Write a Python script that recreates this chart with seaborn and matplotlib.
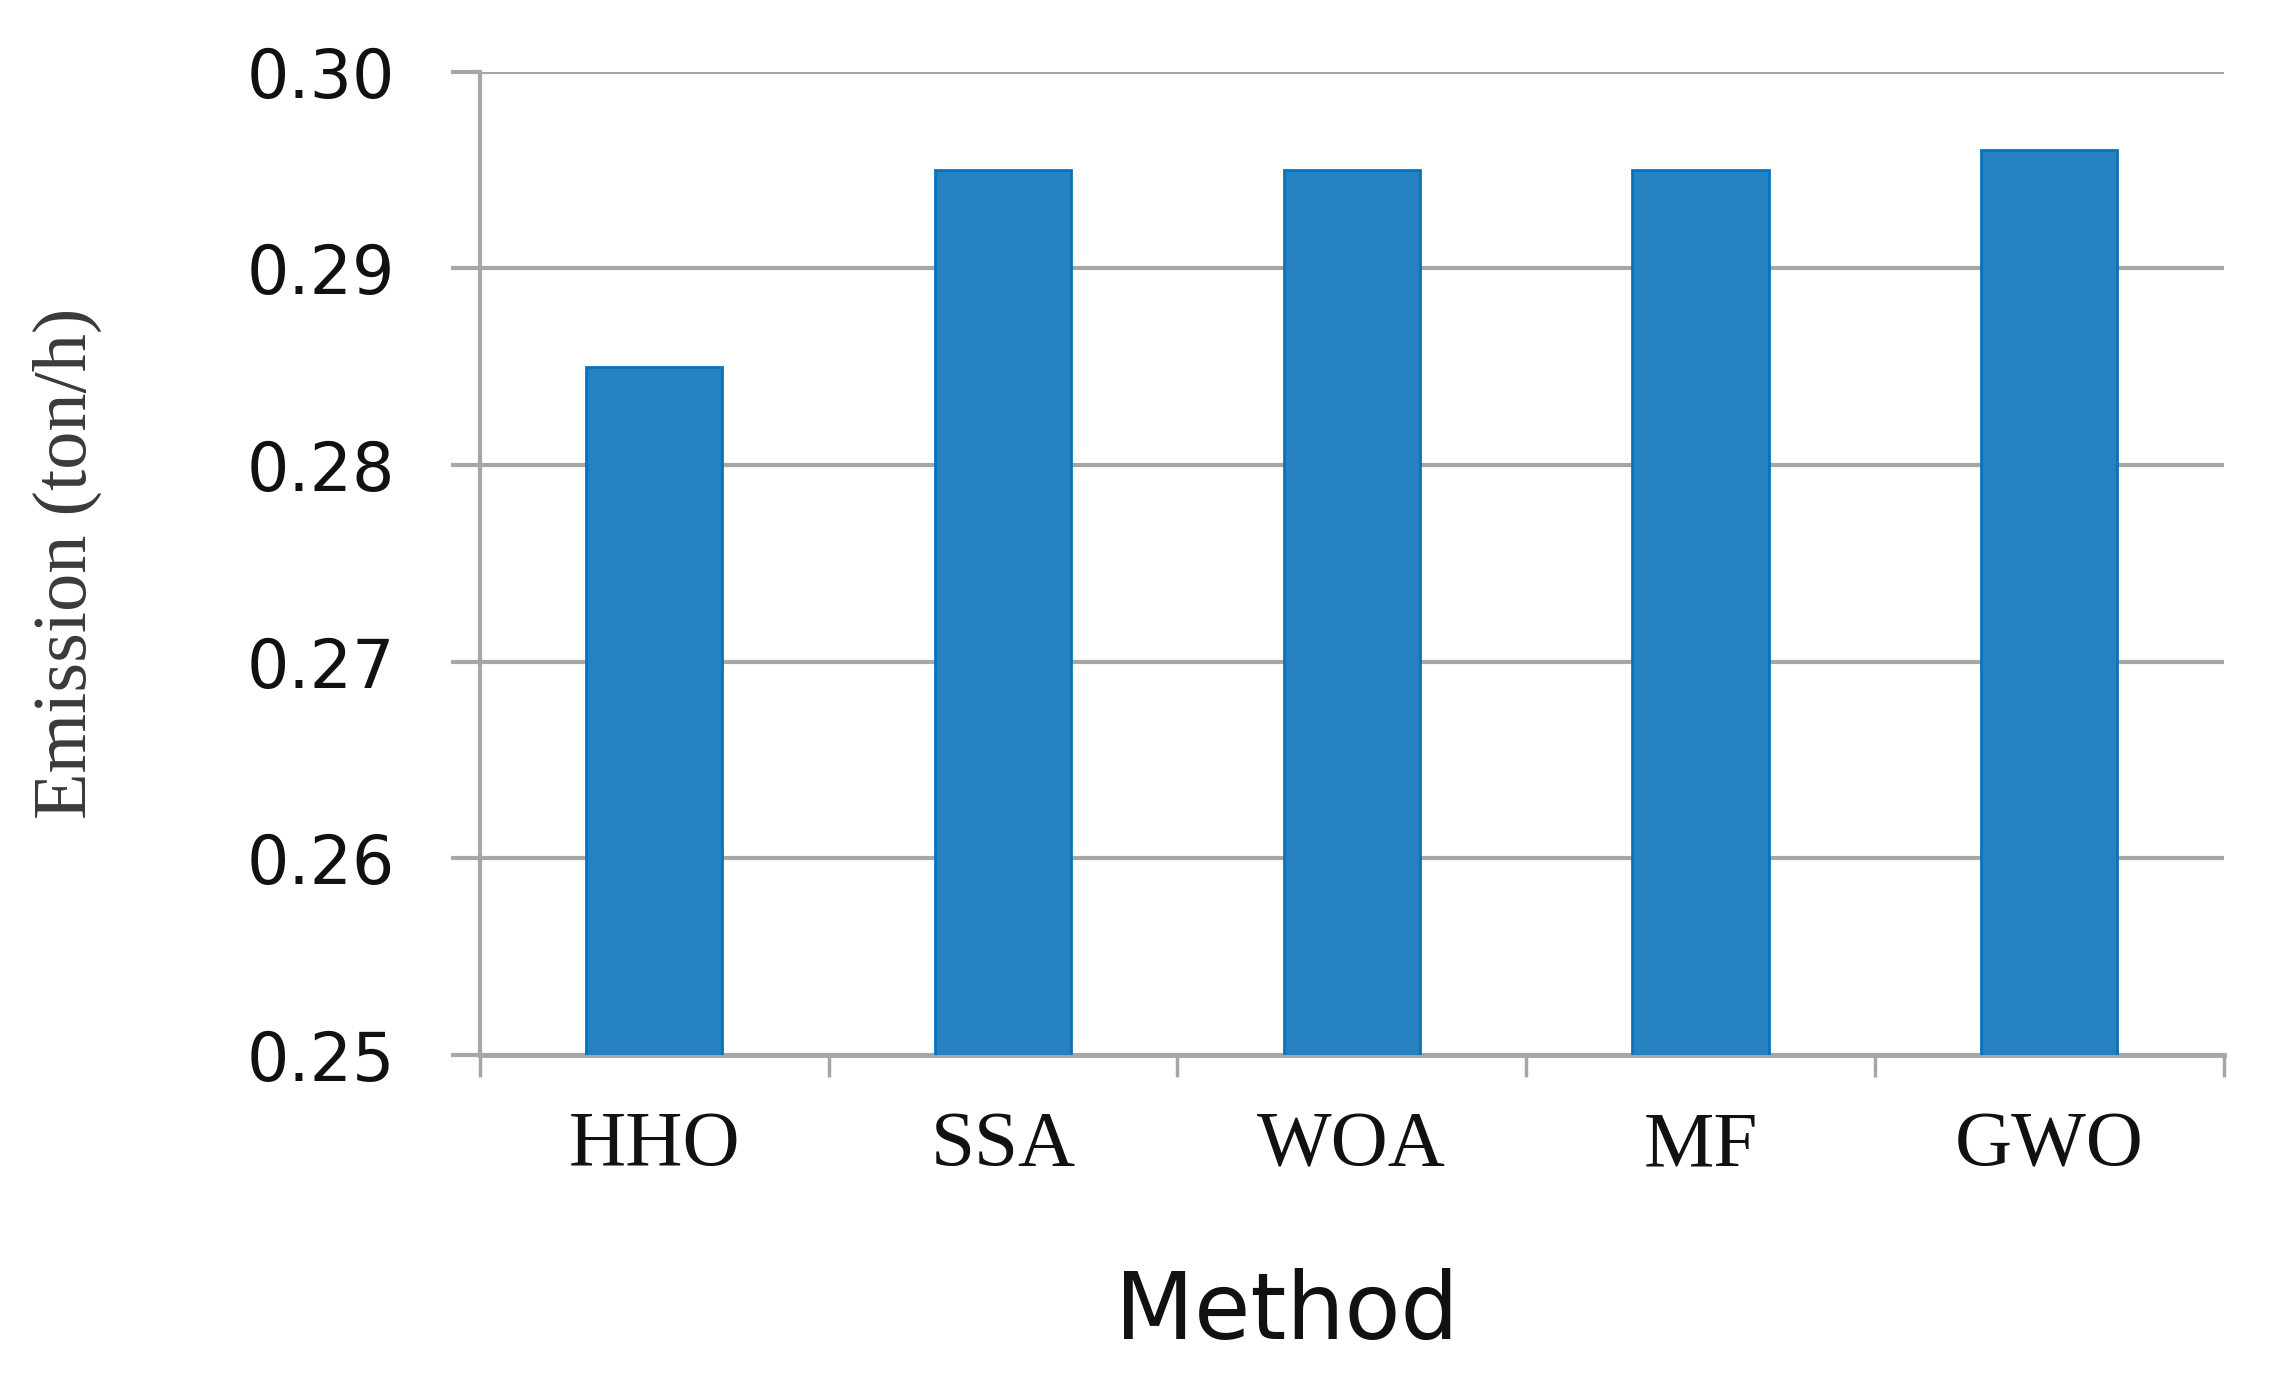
import matplotlib
matplotlib.use("Agg")
import matplotlib.pyplot as plt
import seaborn as sns
import pandas as pd
from matplotlib.ticker import FixedLocator

methods = ["HHO", "SSA", "WOA", "MF", "GWO"]
emission = [0.285, 0.295, 0.295, 0.295, 0.296]
yticks = [0.25, 0.26, 0.27, 0.28, 0.29, 0.30]
ytick_labels = ["0.25", "0.26", "0.27", "0.28", "0.29", "0.30"]

df = pd.DataFrame({"Method": methods, "Emission": emission})

sns.set_theme(style="white")
plt.rcParams['font.family'] = ['DejaVu Sans']

fig = plt.figure(figsize=(22.69, 13.81), dpi=100)
ax = fig.add_axes([0.2115, 0.236, 0.7685, 0.712])

grid_c = "#a6a6a6"
sns.barplot(data=df, x="Method", y="Emission", ax=ax, color="#2681c1",
            width=0.39, saturation=1, edgecolor="#0a72bd", linewidth=2, zorder=3)

ax.set_ylim(0.25, 0.30)
ax.set_xlim(-0.5, 4.5)
ax.set_yticks(yticks)
ax.set_yticklabels(ytick_labels, fontsize=48, color="#111111")
ax.yaxis.grid(True, color=grid_c, linewidth=3, zorder=0)
ax.set_axisbelow(True)

ax.set_xticks(range(len(methods)))
ax.set_xticklabels(methods, fontsize=57, family=['Liberation Serif'], color="#111111")
ax.xaxis.set_minor_locator(FixedLocator([i - 0.5 for i in range(len(methods) + 1)]))
ax.tick_params(axis='x', which='major', bottom=False, length=0, pad=40)
ax.tick_params(axis='x', which='minor', bottom=True, length=16, width=2.5,
               color=grid_c, direction='out')
ax.tick_params(axis='y', which='major', left=True, length=21, width=3,
               color=grid_c, direction='out', pad=40)

for s in ["top", "right"]:
    ax.spines[s].set_visible(False)
ax.spines["left"].set_color(grid_c)
ax.spines["left"].set_linewidth(3)
ax.spines["bottom"].set_color(grid_c)
ax.spines["bottom"].set_linewidth(3.5)

ax.set_xlabel("Method", fontsize=66, color="#111111")
ax.xaxis.label.set_va("center")
ax.xaxis.set_label_coords(0.463, -0.262)

ax.set_ylabel("Emission (ton/h)", fontsize=55, family=['Liberation Serif'],
              color="#3a3a3a")
ax.yaxis.label.set_va("center")
ax.yaxis.set_label_coords(-0.2365, 0.5)

fig.savefig("out.png", dpi=100, facecolor="white")
